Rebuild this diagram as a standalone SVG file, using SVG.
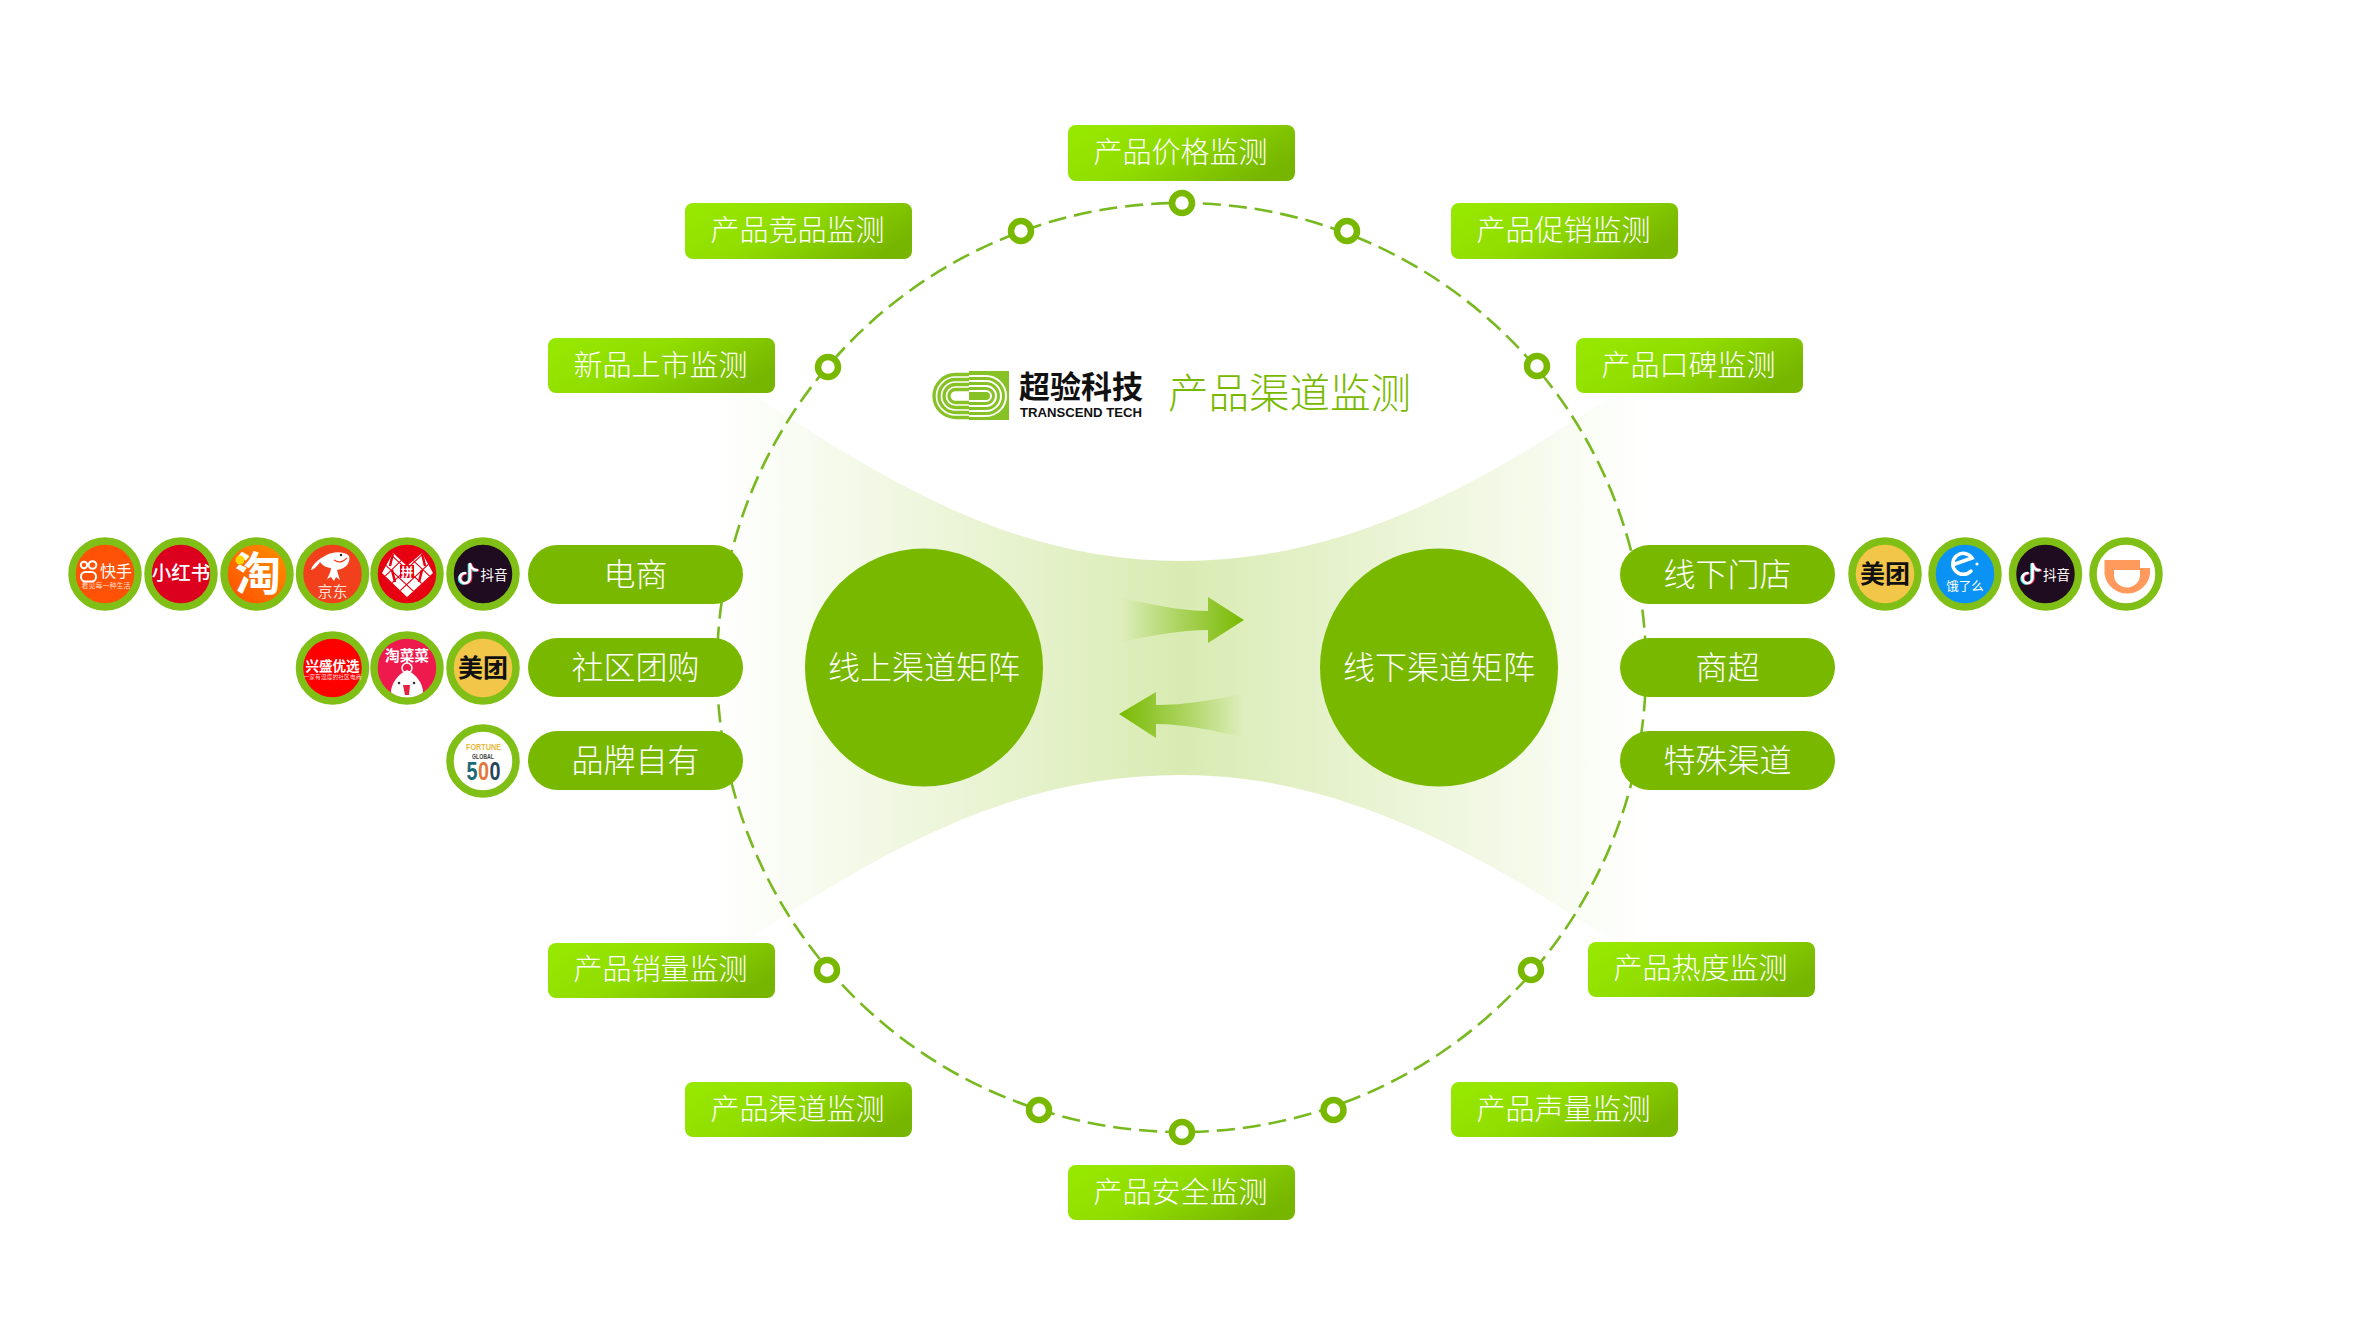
<svg xmlns="http://www.w3.org/2000/svg" width="2363" height="1335" viewBox="0 0 2363 1335">
<style>
text{font-family:"Noto Sans CJK SC","Noto Sans",sans-serif;text-anchor:middle}
.lt{font-weight:300;fill:#fff}
.tag{font-size:29px}
.pill-t{font-size:32px}
.pill{fill:#78b900}
.tag-r{fill:url(#tagG)}
.hub{fill:#78b900}
.dot{fill:#fff;stroke:#78b900;stroke-width:6.5}
.rim{stroke:#80bf16;stroke-width:7.5}
.b{font-weight:700;fill:#fff}
.n{fill:none;stroke-linecap:round;stroke-width:2.6}
.sans{font-family:"Liberation Sans",sans-serif}
</style>
<defs>
<linearGradient id="tagG" x1="0" y1="0.2" x2="1" y2="0.6"><stop offset="0" stop-color="#97e800"/><stop offset="0.45" stop-color="#90dc00"/><stop offset="1" stop-color="#76b500"/></linearGradient>
<linearGradient id="fun" gradientUnits="userSpaceOnUse" x1="717" y1="0" x2="1645" y2="0"><stop offset="0" stop-color="#fff"/><stop offset="0.5" stop-color="#d9ebb2"/><stop offset="1" stop-color="#fff"/></linearGradient>
<linearGradient id="arR" gradientUnits="userSpaceOnUse" x1="1122" y1="0" x2="1244" y2="0"><stop offset="0" stop-color="#78b900" stop-opacity="0"/><stop offset="1" stop-color="#78b900"/></linearGradient>
<linearGradient id="arL" gradientUnits="userSpaceOnUse" x1="1242" y1="0" x2="1119" y2="0"><stop offset="0" stop-color="#78b900" stop-opacity="0"/><stop offset="1" stop-color="#78b900"/></linearGradient>
<linearGradient id="tao" x1="0" y1="1" x2="1" y2="0"><stop offset="0" stop-color="#ff4a00"/><stop offset="1" stop-color="#ff9500"/></linearGradient>
<clipPath id="logoL"><rect x="925" y="365" width="44" height="60"/></clipPath>
<clipPath id="logoR"><rect x="969" y="365" width="44" height="60"/></clipPath>
<clipPath id="chick"><circle cx="407" cy="668" r="29.5"/></clipPath>
<clipPath id="heart"><path d="M407,566L393,553L382,573L407,597L433,573L422,553Z"/></clipPath>
</defs>
<rect width="2363" height="1335" fill="#fff"/>
<path id="funnel" fill="url(#fun)" d="M717,370C880,480 1010,561 1181,561C1340,561 1480,490 1645,372V963C1480,850 1340,775 1181,775C1010,775 880,850 717,960Z"/>
<g id="connectors">
<circle cx="1181.5" cy="667.5" r="464.5" fill="none" stroke="#78b920" stroke-width="2.6" stroke-dasharray="18 8"/>
<path fill="url(#arR)" d="M1122,598C1150,604 1180,611 1208,611V597L1244,620L1208,643V630C1180,630 1150,636 1122,642Z"/>
<path fill="url(#arL)" d="M1119,714L1156,692V705C1185,705 1215,700 1242,694V737C1215,731 1185,724 1156,724V738Z"/>
<circle class="dot" cx="1182" cy="203" r="10"/>
<circle class="dot" cx="1021" cy="231" r="10"/>
<circle class="dot" cx="1347" cy="231" r="10"/>
<circle class="dot" cx="828" cy="367" r="10"/>
<circle class="dot" cx="1537" cy="366" r="10"/>
<circle class="dot" cx="827" cy="970" r="10"/>
<circle class="dot" cx="1531" cy="970" r="10"/>
<circle class="dot" cx="1039" cy="1110" r="10"/>
<circle class="dot" cx="1333.500" cy="1110" r="10"/>
<circle class="dot" cx="1182" cy="1132" r="10"/>
</g>
<g id="brand">
<g fill="none" stroke="#86c225" stroke-width="3.3" clip-path="url(#logoL)">
<rect x="934" y="374.500" width="73" height="43" rx="21.500"/><rect x="939" y="379.500" width="63" height="33" rx="16.500"/><rect x="944" y="384.500" width="53" height="23" rx="11.500"/><rect x="949" y="389.500" width="43" height="13" rx="6.500"/>
</g>
<rect x="969" y="371" width="40" height="49" fill="#86c225"/>
<g fill="none" stroke="#fff" stroke-width="2" clip-path="url(#logoR)">
<rect x="936" y="376" width="70" height="40" rx="20"/><rect x="941" y="381" width="60" height="30" rx="15"/><rect x="946" y="386" width="50" height="20" rx="10"/><rect x="951" y="391" width="40" height="10" rx="5"/>
</g>
<text x="1081" y="398" font-size="31" font-weight="700" fill="#111">超验科技</text>
<text class="sans" x="1081" y="417" font-size="13" font-weight="700" textLength="122" lengthAdjust="spacingAndGlyphs" fill="#111">TRANSCEND TECH</text>
<text x="1289.500" y="408" font-size="40.500" font-weight="300" fill="#78b900">产品渠道监测</text>
</g>
<g id="hub-online"><circle class="hub" cx="924" cy="667.500" r="119"/><text class="lt" x="924" y="679" font-size="32">线上渠道矩阵</text></g>
<g id="hub-offline"><circle class="hub" cx="1439" cy="667.500" r="119"/><text class="lt" x="1439" y="679" font-size="32">线下渠道矩阵</text></g>
<g id="tag-price"><rect class="tag-r" x="1068" y="125" width="227" height="56" rx="8"/><text class="lt tag" x="1180.500" y="163">产品价格监测</text></g>
<g id="tag-rival"><rect class="tag-r" x="685" y="203" width="227" height="56" rx="8"/><text class="lt tag" x="797.500" y="241">产品竞品监测</text></g>
<g id="tag-promo"><rect class="tag-r" x="1451" y="203" width="227" height="56" rx="8"/><text class="lt tag" x="1563.500" y="241">产品促销监测</text></g>
<g id="tag-new"><rect class="tag-r" x="548" y="338" width="227" height="55" rx="8"/><text class="lt tag" x="660.500" y="375.500">新品上市监测</text></g>
<g id="tag-review"><rect class="tag-r" x="1576" y="338" width="227" height="55" rx="8"/><text class="lt tag" x="1688.500" y="375.500">产品口碑监测</text></g>
<g id="tag-sales"><rect class="tag-r" x="548" y="943" width="227" height="55" rx="8"/><text class="lt tag" x="660.500" y="980">产品销量监测</text></g>
<g id="tag-heat"><rect class="tag-r" x="1588" y="942" width="227" height="55" rx="8"/><text class="lt tag" x="1700.500" y="979">产品热度监测</text></g>
<g id="tag-channel"><rect class="tag-r" x="685" y="1082" width="227" height="55" rx="8"/><text class="lt tag" x="797.500" y="1119.500">产品渠道监测</text></g>
<g id="tag-voice"><rect class="tag-r" x="1451" y="1082" width="227" height="55" rx="8"/><text class="lt tag" x="1563.500" y="1119.500">产品声量监测</text></g>
<g id="tag-safe"><rect class="tag-r" x="1068" y="1165" width="227" height="55" rx="8"/><text class="lt tag" x="1180.500" y="1202.500">产品安全监测</text></g>
<g id="pill-ecom"><rect class="pill" x="528" y="545" width="215" height="59" rx="29.500"/><text class="lt pill-t" x="635.500" y="586">电商</text></g>
<g id="pill-community"><rect class="pill" x="528" y="638" width="215" height="59" rx="29.500"/><text class="lt pill-t" x="635.500" y="679">社区团购</text></g>
<g id="pill-own"><rect class="pill" x="528" y="731" width="215" height="59" rx="29.500"/><text class="lt pill-t" x="635.500" y="772">品牌自有</text></g>
<g id="pill-store"><rect class="pill" x="1620" y="545" width="215" height="59" rx="29.500"/><text class="lt pill-t" x="1727.500" y="586">线下门店</text></g>
<g id="pill-super"><rect class="pill" x="1620" y="638" width="215" height="59" rx="29.500"/><text class="lt pill-t" x="1727.500" y="679">商超</text></g>
<g id="pill-special"><rect class="pill" x="1620" y="731" width="215" height="59" rx="29.500"/><text class="lt pill-t" x="1727.500" y="772">特殊渠道</text></g>
<g id="logo-kuaishou"><circle class="rim" cx="105" cy="574" r="33" fill="#ff5206"/>
<g fill="none" stroke="#fff" stroke-width="2"><circle cx="84" cy="565" r="3.200"/><circle cx="92.500" cy="565" r="3.800"/><rect x="81" y="572" width="15" height="9.500" rx="4.500"/></g>
<text x="116" y="577" font-size="16" fill="#fff">快手</text><text x="106" y="587.500" font-size="7" fill="#ffd9c4">看见每一种生活</text></g>
<g id="logo-xhs"><circle class="rim" cx="181" cy="574" r="33" fill="#dc001e"/><text x="181" y="580" font-size="19.500" font-weight="500" fill="#fff">小红书</text></g>
<g id="logo-taobao"><circle class="rim" cx="257" cy="574" r="33" fill="url(#tao)"/><text class="b" x="258" y="590" font-size="46">淘</text><circle cx="240" cy="560" r="4.500" fill="#ffd800"/></g>
<g id="logo-jd"><circle class="rim" cx="332.500" cy="574" r="33" fill="#f2401d"/>
<path fill="#fff" d="M312,567C316,561 321,558 325,556C332,551 345,551 349,556C351,562 346,569 337,570C338,574 339,577 340,580L336,577L334,581L331,577L327,579C329,575 331,571 331,568C326,568 321,564 320,562C318,565 315,569 311,570Z"/>
<path fill="none" stroke="#f2401d" stroke-width="1.200" d="M334,560C338,563 343,562 347,558"/><circle cx="341" cy="555" r="1.200" fill="#222"/>
<text x="332.500" y="597" font-size="15" fill="#ffe0d6">京东</text></g>
<g id="logo-pdd"><circle class="rim" cx="407" cy="574" r="33" fill="#e60012"/>
<path fill="#fff" d="M407,566L393,553L382,573L407,597L433,573L422,553Z"/>
<g clip-path="url(#heart)" stroke="#e60012" stroke-width="1.100" fill="none"><path d="M380,560L425,602M388,552L433,594M400,548L440,586M433,560L388,602M425,552L380,594M414,548L375,586"/><path d="M393,553L390,566M422,553L425,566M395,582L392,570M419,582L422,570" stroke-width="2.500"/></g>
<rect x="400" y="565" width="14" height="13" fill="#e60012"/><text x="407" y="576.500" font-size="12.500" font-weight="700" fill="#fff">拼</text></g>
<g id="logo-douyin"><circle class="rim" cx="483" cy="574" r="33" fill="#1f0c20"/>
<g transform="translate(483 574)"><path class="n" stroke="#25f4ee" transform="translate(-1 .6)" d="M-13,-10V4A5,5 0 1 1 -18,-1M-13,-10C-12,-6 -9,-4 -6,-4"/><path class="n" stroke="#fe2c55" transform="translate(1 .4)" d="M-13,-10V4A5,5 0 1 1 -18,-1M-13,-10C-12,-6 -9,-4 -6,-4"/><path class="n" stroke="#fff" d="M-13,-10V4A5,5 0 1 1 -18,-1M-13,-10C-12,-6 -9,-4 -6,-4"/></g>
<text x="494" y="580" font-size="13.500" fill="#fff">抖音</text></g>
<g id="logo-xingsheng"><circle class="rim" cx="332.500" cy="668" r="33" fill="#f00"/><text class="b" x="332.500" y="671" font-size="13.500">兴盛优选</text><text x="332.500" y="678.500" font-size="5.800" fill="#ffd6d6">一家有温度的社区电商</text></g>
<g id="logo-taocaicai"><circle class="rim" cx="407" cy="668" r="33" fill="#ee1a4e"/><text class="b" x="407" y="661" font-size="14.700">淘菜菜</text>
<g clip-path="url(#chick)"><circle cx="407" cy="668" r="5" fill="none" stroke="#fff" stroke-width="1.500"/><path fill="#fff" d="M407,670C416,674 423,684 423,692C423,702 391,702 391,692C391,684 398,674 407,670Z"/><path fill="#e6213f" d="M403,685H410L409,695H405Z"/><circle cx="399" cy="683" r="1.300" fill="#333"/><circle cx="414" cy="683" r="1.300" fill="#333"/></g></g>
<g id="logo-meituan"><circle class="rim" cx="483" cy="668" r="33" fill="#f2c649"/><text x="483" y="677" font-size="25" font-weight="700" fill="#111">美团</text></g>
<g id="logo-fortune"><circle class="rim" cx="483" cy="761" r="33" fill="#fff"/>
<text class="sans" x="483.500" y="749.500" font-size="8.500" font-weight="700" textLength="35" lengthAdjust="spacingAndGlyphs" fill="#e8b93c">FORTUNE</text>
<text class="sans" x="483" y="758.500" font-size="7.500" font-weight="700" textLength="22" lengthAdjust="spacingAndGlyphs" fill="#444">GLOBAL</text>
<text class="sans" x="472" y="780" font-size="25" font-weight="700" textLength="11" lengthAdjust="spacingAndGlyphs" fill="#1c6a78">5</text>
<text class="sans" x="483.500" y="780" font-size="25" font-weight="700" textLength="11" lengthAdjust="spacingAndGlyphs" fill="#e4773a">0</text>
<text class="sans" x="495" y="780" font-size="25" font-weight="700" textLength="11" lengthAdjust="spacingAndGlyphs" fill="#27465a">0</text></g>
<g id="logo-meituan2"><circle class="rim" cx="1885" cy="574" r="33" fill="#f2c649"/><text x="1885" y="583" font-size="25" font-weight="700" fill="#111">美团</text></g>
<g id="logo-eleme"><circle class="rim" cx="1965" cy="574" r="33" fill="#0a93f5"/>
<path fill="none" stroke="#fff" stroke-width="3.500" stroke-linecap="round" d="M1955,564L1972,558A10.500,10.500 0 1 0 1971,571"/><circle cx="1977" cy="564" r="1.600" fill="#fff"/>
<text x="1965" y="591" font-size="12.500" fill="#fff">饿了么</text></g>
<g id="logo-douyin2"><circle class="rim" cx="2045.500" cy="574" r="33" fill="#1f0c20"/>
<g transform="translate(2045.500 574)"><path class="n" stroke="#25f4ee" transform="translate(-1 .6)" d="M-13,-10V4A5,5 0 1 1 -18,-1M-13,-10C-12,-6 -9,-4 -6,-4"/><path class="n" stroke="#fe2c55" transform="translate(1 .4)" d="M-13,-10V4A5,5 0 1 1 -18,-1M-13,-10C-12,-6 -9,-4 -6,-4"/><path class="n" stroke="#fff" d="M-13,-10V4A5,5 0 1 1 -18,-1M-13,-10C-12,-6 -9,-4 -6,-4"/></g>
<text x="2056.500" y="580" font-size="13.500" fill="#fff">抖音</text></g>
<g id="logo-didi"><circle class="rim" cx="2126" cy="574" r="33" fill="#fff"/><path fill="#ff9a5c" fill-rule="evenodd" d="M2104.500,560H2140V568H2150V574A23,23 0 0 1 2104.500,574ZM2114,570V575A13,12.500 0 0 0 2140,575V570Z"/></g>
</svg>
